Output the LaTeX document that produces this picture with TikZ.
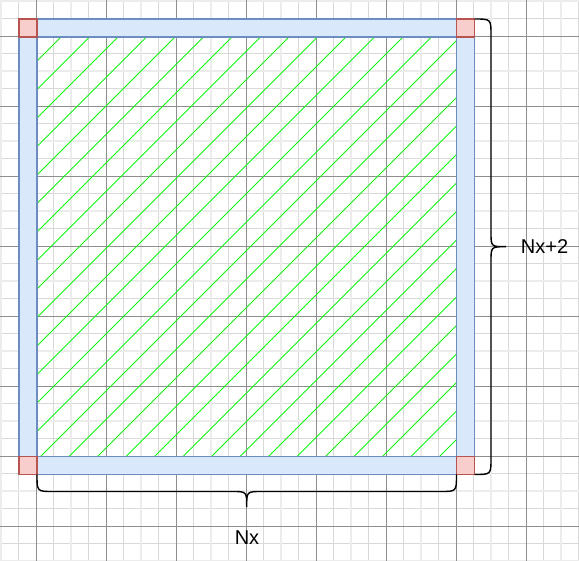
\documentclass[tikz,border=0pt]{standalone}
\usepackage{fontspec}
\setmainfont{Liberation Sans}
\definecolor{minorgrid}{HTML}{D9D9D9}
\definecolor{bandgrid}{HTML}{ECECEC}
\definecolor{majorgrid}{HTML}{8E8E8E}
\definecolor{barfill}{HTML}{DAE8FC}
\definecolor{barline}{HTML}{6C8EBF}
\definecolor{cornerfill}{HTML}{F8CECC}
\definecolor{cornerline}{HTML}{B85450}
\definecolor{hatchgreen}{HTML}{11F511}
\tikzset{
  minorline/.style={draw=minorgrid, line width=0.8pt},
  bandline/.style={draw=bandgrid, line width=2pt},
  majorline/.style={draw=majorgrid, line width=0.8pt},
  hatchline/.style={draw=hatchgreen, line width=1pt},
  bluebar/.style={fill=barfill, draw=barline, line width=1.2pt},
  redsquare/.style={fill=cornerfill, draw=cornerline, line width=1.2pt},
  bracepath/.style={draw=black, line width=1.4pt},
  labeltext/.style={font=\fontsize{20}{24}\selectfont, inner sep=0pt, anchor=base, text=black}
}
\begin{document}
\begin{tikzpicture}[x=1pt,y=-1pt]
\useasboundingbox (0,0) rectangle (579,561);
\fill[white] (0,0) rectangle (579,561);
% grid
\foreach \k in {0,...,33} {
  \pgfmathsetmacro\p{1+17.5*\k}
  \draw[minorline] (\p,0) -- (\p,561);
}
\foreach \k in {0,...,32} {
  \pgfmathsetmacro\p{1+17.5*\k}
  \draw[minorline] (0,\p) -- (579,\p);
}
\foreach \p in {1,71,141,211,281,351,421,491,561} {
  \draw[bandline] (\p,0) -- (\p,561);
  \draw[bandline] (0,\p) -- (579,\p);
}
\foreach \p in {36,106,176,246,316,386,456,526} {
  \draw[majorline] (\p,0) -- (\p,561);
  \draw[majorline] (0,\p) -- (579,\p);
}
% hatching
\begin{scope}
  \clip (37,37) rectangle (456.5,456.5);
  \foreach \k in {0,...,28} {
    \pgfmathsetmacro\c{98+28.5*\k}
    \draw[hatchline] ({\c+100},-100) -- ({\c-1000},1000);
  }
\end{scope}
% bars
\draw[bluebar] (37,19) rectangle (456.5,37);
\draw[bluebar] (37,456.5) rectangle (456.5,474.5);
\draw[bluebar] (19,37) rectangle (37,456.5);
\draw[bluebar] (456.5,37) rectangle (474.5,456.5);
% corners
\draw[redsquare] (19,19) rectangle (37,37);
\draw[redsquare] (456.5,19) rectangle (474.5,37);
\draw[redsquare] (19,456.5) rectangle (37,474.5);
\draw[redsquare] (456.5,456.5) rectangle (474.5,474.5);
% braces
\coordinate (rbtop) at (474.5,19);
\coordinate (rbbot) at (474.5,474.5);
\coordinate (rbtip) at (506,246.7);
\draw[bracepath] (rbtop) .. controls (491,19) .. (491,35) -- (491,232)
  .. controls (491,246.7) .. (rbtip) .. controls (491,246.7) .. (491,261.5)
  -- (491,458.5) .. controls (491,474.5) .. (rbbot);
\coordinate (bbleft) at (37,474.5);
\coordinate (bbright) at (456.5,474.5);
\coordinate (bbtip) at (246.7,507);
\draw[bracepath] (bbleft) .. controls (37,491.5) .. (53,491.5) -- (232,491.5)
  .. controls (246.7,491.5) .. (bbtip) .. controls (246.7,491.5) .. (261.5,491.5)
  -- (440.5,491.5) .. controls (456.5,491.5) .. (bbright);
% labels
\node[labeltext] (lblright) at (544.5,254) {Nx+2};
\node[labeltext] (lblbottom) at (247,544) {Nx};
\end{tikzpicture}
\end{document}
